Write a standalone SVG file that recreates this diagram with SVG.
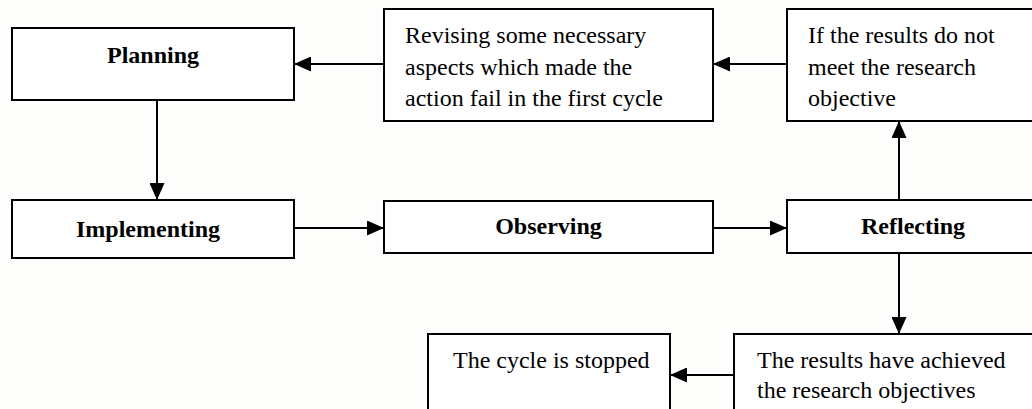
<svg xmlns="http://www.w3.org/2000/svg" width="1032" height="409" viewBox="0 0 1032 409">
<style>
.box{fill:#ffffff;stroke:#000;stroke-width:2}
.lbl{font-family:"Liberation Serif","Times New Roman",serif;font-size:24px;fill:#000}
.b{font-weight:bold;text-anchor:middle}
.con{stroke:#000;stroke-width:2;fill:none;marker-end:url(#ah)}
</style>
<defs>
<marker id="ah" markerUnits="userSpaceOnUse" markerWidth="17" markerHeight="15" viewBox="0 0 17 15" refX="17" refY="7.5" orient="auto">
<path d="M0,0 L17,7.5 L0,15 Z" fill="#000"/>
</marker>
</defs>
<rect width="1032" height="409" fill="#fefefc"/>
<g id="planning">
<rect class="box" x="12" y="28" width="282" height="72"/>
<text class="lbl b" x="153" y="63">Planning</text>
</g>
<g id="revising">
<rect class="box" x="384" y="9" width="329" height="112"/>
<text class="lbl" x="405" y="43">Revising some necessary</text>
<text class="lbl" x="405" y="74.5">aspects which made the</text>
<text class="lbl" x="405" y="106">action fail in the first cycle</text>
</g>
<g id="notmeet">
<rect class="box" x="787" y="9" width="260" height="112"/>
<text class="lbl" x="808" y="43">If the results do not</text>
<text class="lbl" x="808" y="74.5">meet the research</text>
<text class="lbl" x="808" y="106">objective</text>
</g>
<g id="implementing">
<rect class="box" x="12" y="200" width="282" height="58"/>
<text class="lbl b" x="148" y="237">Implementing</text>
</g>
<g id="observing">
<rect class="box" x="384" y="201" width="329" height="52"/>
<text class="lbl b" x="548.5" y="234">Observing</text>
</g>
<g id="reflecting">
<rect class="box" x="787" y="200" width="252" height="53"/>
<text class="lbl b" x="913" y="234">Reflecting</text>
</g>
<g id="achieved">
<rect class="box" x="734" y="334" width="320" height="90"/>
<text class="lbl" x="757" y="367.5">The results have achieved</text>
<text class="lbl" x="757" y="397.5">the research objectives</text>
</g>
<g id="stopped">
<rect class="box" x="428" y="334" width="242" height="90"/>
<text class="lbl" x="453" y="368">The cycle is stopped</text>
</g>
<g id="connectors">
<path class="con" d="M157,100 L157,200"/>
<path class="con" d="M294,228 L384,228"/>
<path class="con" d="M713,228 L787,228"/>
<path class="con" d="M899,200 L899,121"/>
<path class="con" d="M787,64 L713,64"/>
<path class="con" d="M384,64 L294,64"/>
<path class="con" d="M899,253 L899,334"/>
<path class="con" d="M734,375 L670,375"/>
</g>
</svg>
